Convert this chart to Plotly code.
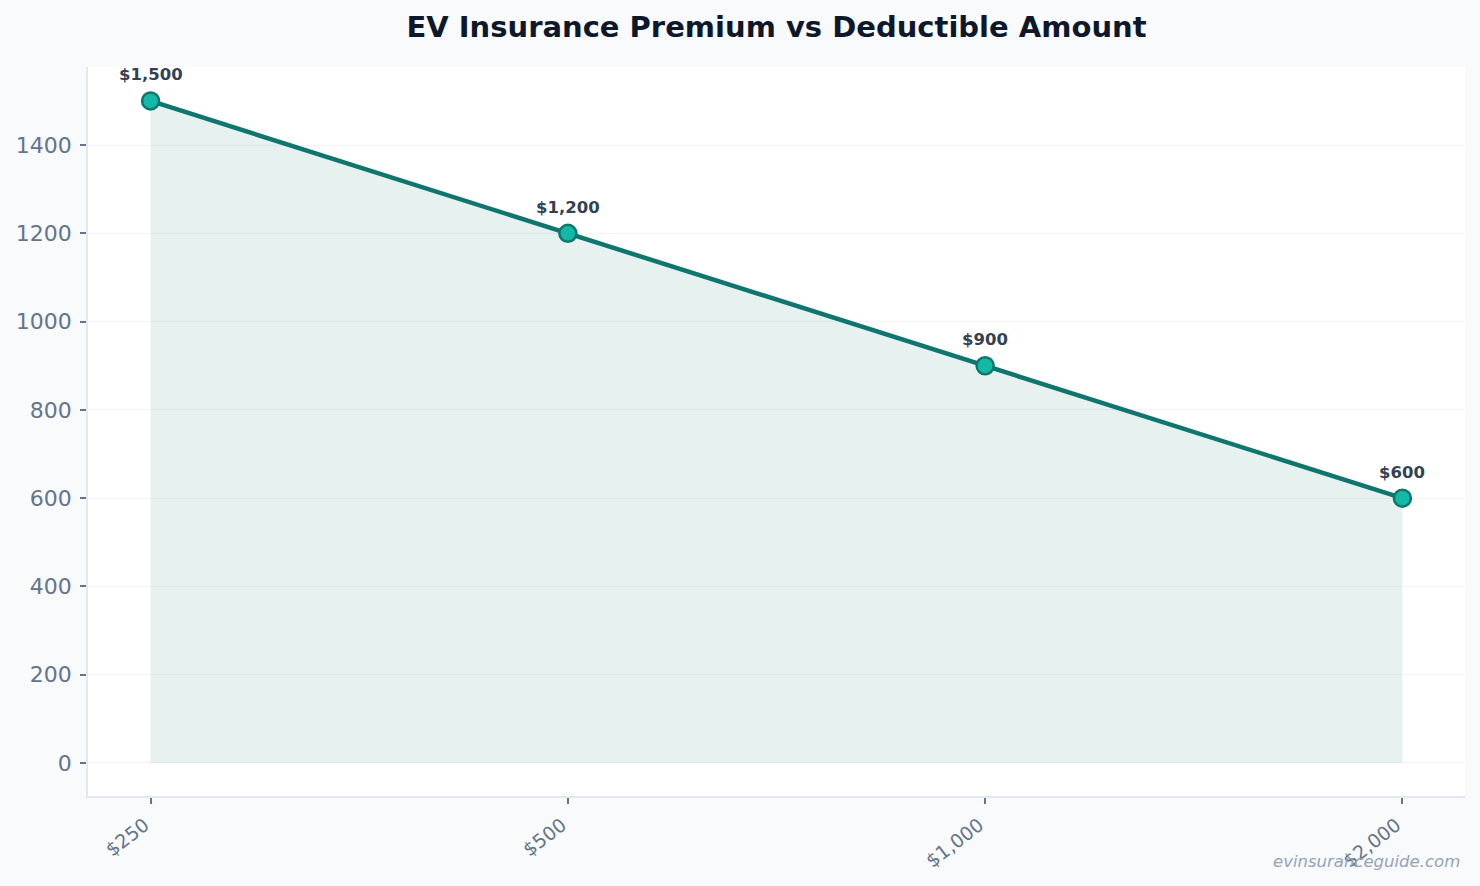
import plotly.graph_objects as go

# Data
deductibles = ['$250', '$500', '$1,000', '$2,000']
premiums = [1500, 1200, 900, 600]
premium_labels = ['$1,500', '$1,200', '$900', '$600']

fig = go.Figure()

# Line with shaded area down to zero
fig.add_trace(go.Scatter(
    x=deductibles,
    y=premiums,
    mode='lines+markers',
    fill='tozeroy',
    fillcolor='rgba(15,118,110,0.10)',
    line=dict(color='#0f766e', width=4.5),
    marker=dict(size=17, color='#14b8a6', line=dict(color='#0f766e', width=2.5)),
    showlegend=False,
))

# Value labels above each point
for d, p, lab in zip(deductibles, premiums, premium_labels):
    fig.add_annotation(
        x=d, y=p, text='<b>' + lab + '</b>',
        showarrow=False, yshift=26,
        font=dict(family='DejaVu Sans', size=16.5, color='#334155'),
    )

# Watermark
fig.add_annotation(
    xref='paper', yref='paper', x=1, y=0,
    xanchor='right', yanchor='top', yshift=-54, xshift=-3,
    text='<i>evinsuranceguide.com</i>', showarrow=False,
    font=dict(family='DejaVu Sans', size=16.5, color='#94a3b8'),
)

fig.update_layout(
    width=1480,
    height=886,
    margin=dict(l=88, r=15, t=67, b=90),
    paper_bgcolor='#f8fafc',
    plot_bgcolor='#ffffff',
    font=dict(family='DejaVu Sans', color='#64748b'),
    title=dict(
        text='<b>EV Insurance Premium vs Deductible Amount</b>',
        x=0.5, xref='paper', xanchor='center',
        y=1 - 27 / 886, yref='container', yanchor='middle',
        font=dict(family='DejaVu Sans', size=29, color='#0f172a'),
    ),
)

fig.update_xaxes(
    type='category',
    range=[-0.15, 3.15],
    showgrid=False,
    zeroline=False,
    showline=True, linecolor='#e2e8f0', linewidth=1.5,
    ticks='outside', ticklen=6, tickcolor='#64748b', tickwidth=1.5,
    tickangle=-38, ticklabelstandoff=3, ticklabelshift=-6,
    tickfont=dict(size=19, color='#64748b'),
)

fig.update_yaxes(
    range=[-75, 1577],
    tickvals=[0, 200, 400, 600, 800, 1000, 1200, 1400],
    showgrid=True, gridcolor='#f1f5f9', gridwidth=1,
    zeroline=False,
    showline=True, linecolor='#e2e8f0', linewidth=1.5,
    ticks='outside', ticklen=6, tickcolor='#64748b', tickwidth=1.5,
    ticklabelstandoff=4,
    tickfont=dict(size=22, color='#64748b'),
)

# drop the default page margin so the figure sits at the window corner
fig.write_html(
    "out.html",
    config={'displayModeBar': False},
    post_script="document.body.style.margin='0';document.body.style.background='#f8fafc';",
)
